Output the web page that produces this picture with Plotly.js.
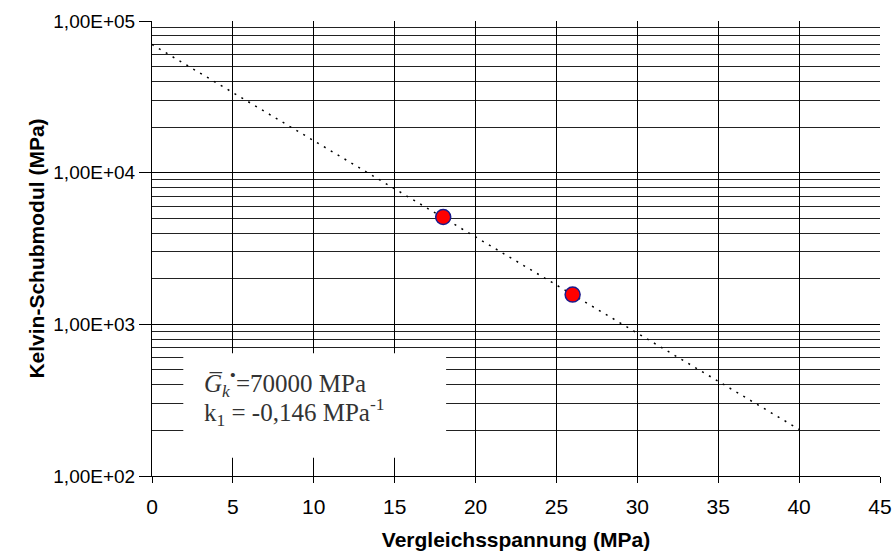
<!DOCTYPE html>
<html>
<head>
<meta charset="utf-8">
<script src="https://cdn.plot.ly/plotly-3.0.1.min.js"></script>
<style>html,body{margin:0;padding:0;background:#fff;}#chart{width:894px;height:556px;}</style>
</head>
<body>
<div id="chart"></div>
<script>
// Measured points
const stressX = [18, 26];
const kelvinG = [5100, 1570];
// Fit line endpoints (exponential fit, straight on log axis)
const fitX = [0, 40];
const fitY = [70000, 203];
// Tick labels
const xTicks = [0, 5, 10, 15, 20, 25, 30, 35, 40, 45];
const yTickVals = [100, 1000, 10000, 100000];
const yTickText = ['1,00E+02', '1,00E+03', '1,00E+04', '1,00E+05'];

const traces = [
  {
    x: fitX, y: fitY, type: 'scatter', mode: 'lines',
    line: {color: '#000', width: 1.5, dash: '2px,6px'}, hoverinfo: 'skip'
  },
  {
    x: stressX, y: kelvinG, type: 'scatter', mode: 'markers',
    marker: {color: '#ff0000', size: 15, line: {color: '#1a1a8c', width: 1.5}}
  }
];

const layout = {
  width: 894, height: 556,
  margin: {l: 152, r: 14, t: 21, b: 80},
  paper_bgcolor: '#fff', plot_bgcolor: '#fff',
  showlegend: false,
  font: {family: 'Liberation Sans, Arial, sans-serif', color: '#000', size: 18},
  xaxis: {
    range: [0, 45], tickvals: xTicks, ticktext: xTicks.map(String),
    showgrid: true, gridcolor: '#000', gridwidth: 1,
    zeroline: false, showline: true, linecolor: '#000', linewidth: 1,
    ticks: 'outside', ticklen: 6, tickcolor: '#000', ticklabelstandoff: 6,
    tickfont: {size: 21},
    title: {text: '<b>Vergleichsspannung (MPa)</b>', font: {size: 21}, standoff: 15}
  },
  yaxis: {
    type: 'log', range: [2, 5],
    tickvals: yTickVals, ticktext: yTickText,
    showgrid: true, gridcolor: '#000', gridwidth: 1,
    minor: {showgrid: true, dtick: 'D1', gridcolor: '#222', gridwidth: 1, ticks: ''},
    zeroline: false, showline: true, linecolor: '#000', linewidth: 1,
    ticks: 'outside', ticklen: 12, tickcolor: '#000',
    tickfont: {size: 19},
    title: {text: '<b>Kelvin-Schubmodul (MPa)</b>', font: {size: 21}, standoff: 2}
  },
  shapes: [
    {type: 'rect', xref: 'paper', yref: 'paper', x0: 0.043, x1: 0.404, y0: 0.04, y1: 0.27,
     fillcolor: '#fff', line: {width: 0}, layer: 'above'}
  ],
  annotations: [
    {xref: 'paper', yref: 'paper', x: 0.068, y: 0.205, xanchor: 'left', yanchor: 'middle',
     showarrow: false, align: 'left',
     font: {family: 'Liberation Serif, Times New Roman, serif', size: 25, color: '#333'},
     text: '<i>G\u0305</i><sub><i>k</i></sub><sup>\u2022</sup>=70000 MPa'},
    {xref: 'paper', yref: 'paper', x: 0.068, y: 0.14, xanchor: 'left', yanchor: 'middle',
     showarrow: false, align: 'left',
     font: {family: 'Liberation Serif, Times New Roman, serif', size: 25, color: '#333'},
     text: 'k<sub>1</sub> = -0,146 MPa<sup>-1</sup>'}
  ]
};

Plotly.newPlot('chart', traces, layout, {displayModeBar: false, staticPlot: true});
</script>
</body>
</html>
